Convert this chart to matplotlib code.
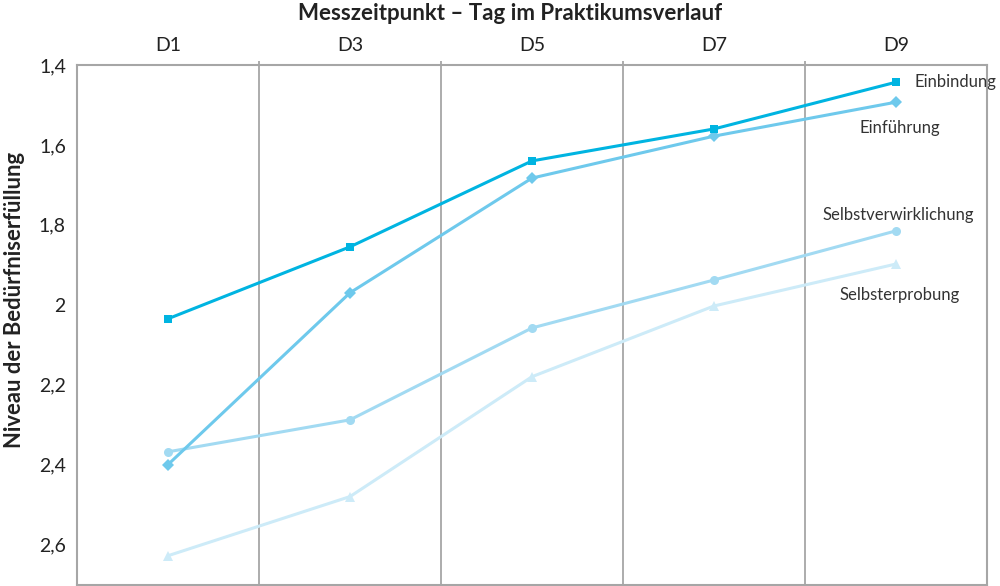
import matplotlib
matplotlib.use("Agg")
import matplotlib.pyplot as plt
import numpy as np

plt.rcParams['font.family'] = ['Lato', 'DejaVu Sans']

categories = ["D1", "D3", "D5", "D7", "D9"]
einbindung = [2.035, 1.855, 1.64, 1.56, 1.443]
einfuehrung = [2.40, 1.97, 1.683, 1.578, 1.493]
selbstverwirklichung = [2.368, 2.288, 2.058, 1.938, 1.815]
selbsterprobung = [2.628, 2.48, 2.18, 2.003, 1.898]
yticks = [1.4, 1.6, 1.8, 2.0, 2.2, 2.4, 2.6]
yticklabels = ["1,4", "1,6", "1,8", "2", "2,2", "2,4", "2,6"]

series = [
    ("Einbindung", einbindung, "#00b4e1", "s", 6, (18, 0), "left", "center"),
    ("Einführung", einfuehrung, "#6ec9ec", "D", 6, (4, -26), "center", "center"),
    ("Selbstverwirklichung", selbstverwirklichung, "#a2daf2", "o", 6.5, (2, 16), "center", "center"),
    ("Selbsterprobung", selbsterprobung, "#cdebf8", "^", 7.5, (4, -31), "center", "center"),
]

fig = plt.figure(figsize=(10, 5.86), dpi=100)
ax = fig.add_axes([0.077, 1.5/586, 0.910, 1 - 65/586 - 1.5/586])

x = np.arange(len(categories))
for name, vals, col, mk, ms, off, ha, va in reversed(series):
    ax.plot(x, vals, color=col, lw=2.2, marker=mk, markersize=ms,
            markeredgewidth=0, solid_capstyle='round')
    ax.annotate(name, (x[-1], vals[-1]), xytext=off, textcoords='offset pixels',
                ha=ha, va=va, fontsize=12, color="#333333")

ax.set_xlim(-0.5, len(categories) - 0.5)
ax.set_ylim(2.7, 1.4)
ax.set_yticks(yticks)
ax.set_yticklabels(yticklabels)
ax.xaxis.tick_top()
ax.set_xticks(x)
ax.set_xticklabels(categories)
ax.set_xticks(np.arange(0.5, len(categories) - 0.5, 1), minor=True)
ax.tick_params(axis='x', which='major', length=0, pad=8, labelsize=14, colors="#222222")
ax.tick_params(axis='x', which='minor', length=3, width=1.3, color="#a6a6a6", direction='out')
ax.tick_params(axis='y', length=0, pad=8, labelsize=14, colors="#222222")
ax.grid(which='minor', axis='x', color="#a6a6a6", lw=1.3)
for sp in ax.spines.values():
    sp.set_color("#a6a6a6")
    sp.set_linewidth(1.5)

fig.text(0.51, 1 - 13/586, "Messzeitpunkt – Tag im Praktikumsverlauf", ha='center', va='center',
         fontsize=16, fontweight='bold', color="#222222")
fig.text(0.015, 1 - 300/586, "Niveau der Bedürfniserfüllung", ha='center', va='center',
         rotation=90, fontsize=15.8, fontweight='bold', color="#222222")

fig.savefig("out.png", dpi=100)
